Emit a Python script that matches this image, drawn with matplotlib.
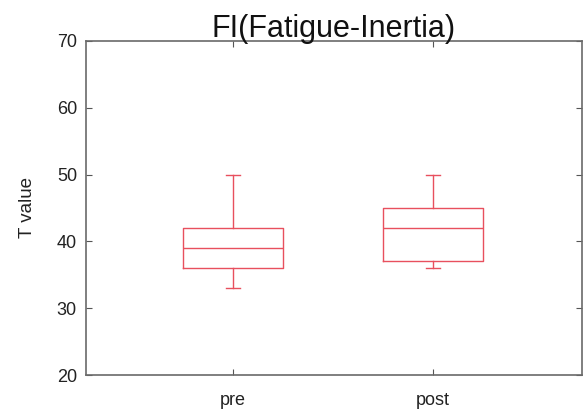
import matplotlib
matplotlib.use("Agg")
import matplotlib.pyplot as plt

plt.rcParams['font.family'] = ['Liberation Sans', 'DejaVu Sans']

categories = ["pre", "post"]
whisker_low = [33, 36]
q1 = [36, 37]
median = [39, 42]
q3 = [42, 45]
whisker_high = [50, 50]
yticks = [20, 30, 40, 50, 60, 70]
title = "FI(Fatigue-Inertia)"
ylabel = "T value"

fig = plt.figure(figsize=(5.87, 4.12), dpi=100)
ax = fig.add_axes([0.1465, 0.0898, 0.845, 0.8107])

stats = []
for i, c in enumerate(categories):
    stats.append(dict(label=c, whislo=whisker_low[i], q1=q1[i], med=median[i],
                      q3=q3[i], whishi=whisker_high[i], fliers=[]))

red = "#e8505e"
ax.bxp(stats, positions=[1, 2], widths=0.5, showfliers=False,
       boxprops=dict(color=red, lw=1.0),
       medianprops=dict(color=red, lw=1.0),
       whiskerprops=dict(color=red, lw=1.0),
       capprops=dict(color=red, lw=1.0),
       capwidths=0.07)

ax.set_xlim(0.265, 2.745)
ax.set_ylim(20, 70)
ax.set_yticks(yticks)
ax.set_xticks([1, 2])
ax.set_xticklabels(categories)
ax.tick_params(direction='in', length=4, width=0.8, color='#555555',
               labelsize=13, top=True, right=True)
ax.tick_params(axis='x', pad=12.5)
ax.tick_params(axis='y', pad=6.5)
for s in ax.spines.values():
    s.set_color('#6a6a6a')
    s.set_linewidth(1.2)
for lab in ax.get_xticklabels() + ax.get_yticklabels():
    lab.set_color('#222222')

ax.set_ylabel(ylabel, fontsize=13.5, labelpad=15, color='#222222')
ax.set_title(title, fontsize=22, pad=3, color='#111111')

fig.savefig("out.png", dpi=100)
